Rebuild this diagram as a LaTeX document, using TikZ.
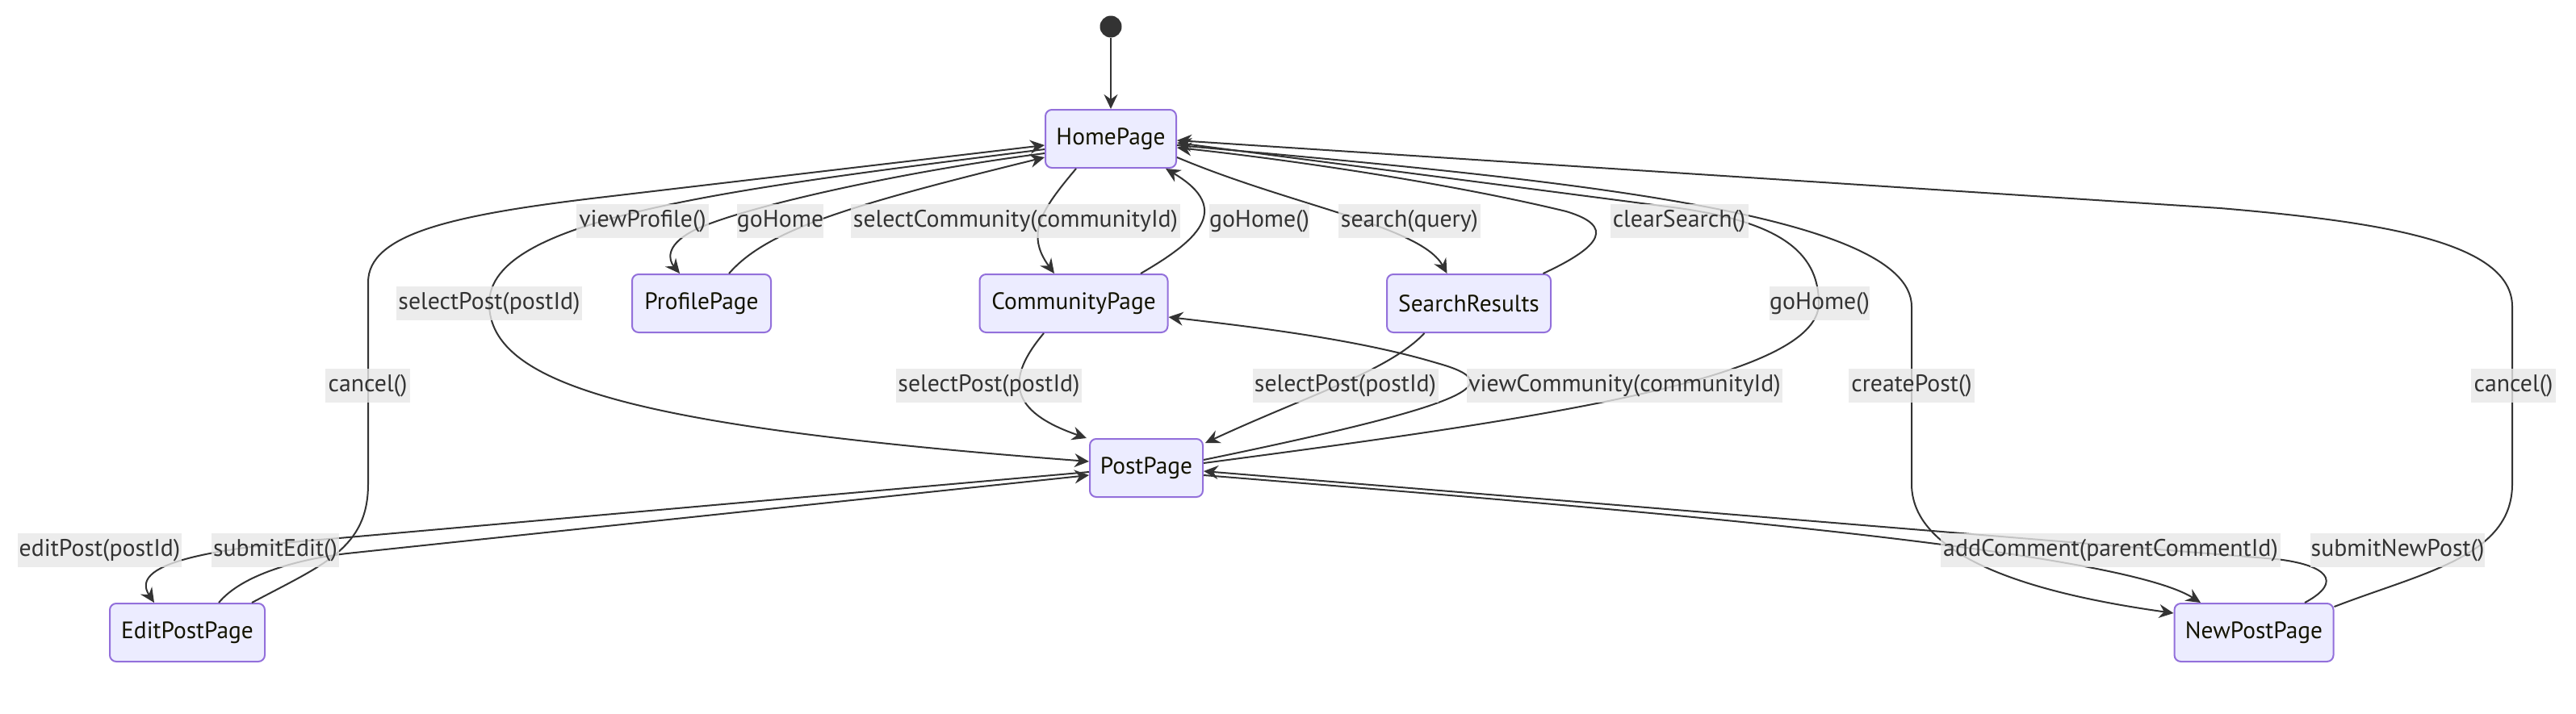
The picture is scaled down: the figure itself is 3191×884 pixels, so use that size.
\documentclass[tikz,border=0pt]{standalone}
\usepackage{fontspec}
\setmainfont{PT Sans}
\usetikzlibrary{arrows.meta,calc}
\definecolor{nodefill}{HTML}{ECECFF}
\definecolor{nodestroke}{HTML}{9370DB}
\definecolor{edgecol}{HTML}{333333}
\definecolor{lblbg}{HTML}{E8E8E8}
\definecolor{statetext}{HTML}{131300}
\begin{document}
\begin{tikzpicture}[x=0.5pt,y=-0.5pt,
  state/.style={draw=nodestroke, fill=nodefill, line width=1pt, rounded corners=4pt,
    minimum height=36pt, inner sep=0pt, font=\fontsize{14.7}{17}\selectfont, text=statetext},
  lbl/.style={fill=lblbg, fill opacity=0.8, text opacity=1, text=edgecol, inner sep=0pt,
    minimum height=21pt, font=\fontsize{14.9}{17}\selectfont},
  edge/.style={draw=edgecol, line width=1pt, -{Stealth[length=9pt,width=8.5pt,inset=3pt]}}]

\useasboundingbox[fill=white] (0,0) rectangle (3191,884);

% states
\node[circle, fill=edgecol, minimum size=13.5pt, inner sep=0pt] (start) at (1376,33) {};
\node[state, minimum width=81pt] (Home) at (1376,172) {HomePage};
\node[state, minimum width=86pt] (Profile) at (869,376) {ProfilePage};
\node[state, minimum width=116.5pt] (Community) at (1330,376) {CommunityPage};
\node[state, minimum width=101.5pt] (Search) at (1819.5,376) {SearchResults};
\node[state, minimum width=70pt] (Post) at (1420,580) {PostPage};
\node[state, minimum width=96pt] (Edit) at (232,784) {EditPostPage};
\node[state, minimum width=98.5pt] (NewPost) at (2792,784) {NewPostPage};

% transitions
\draw[edge] (start) -- (Home);
\draw[edge] ($(Home.west)+(0,18)$) .. controls (1100,215) and (900,262) .. (855,288)
  .. controls (825,305) and (828,322) .. ($(Profile.north)+(-27,0)$);
\draw[edge] ($(Profile.north)+(34,0)$) .. controls (950,285) and (1050,255) .. ($(Home.west)+(0,23)$);
\draw[edge] ($(Edit.north)+(80,0)$) .. controls (400,700) and (456,680) .. (456,600) -- (456,350)
  .. controls (456,290) and (560,266) .. (750,244) -- ($(Home.west)+(0,8)$);
\draw[edge] ($(Home.west)+(0,13)$) .. controls (900,235) and (606,270) .. (606,376)
  .. controls (606,480) and (800,530) .. ($(Post.west)+(0,-8)$);
\draw[edge] ($(Home.south)+(-43,0)$) .. controls (1290,260) and (1270,290) .. ($(Community.north)+(-24,0)$);
\draw[edge] ($(Community.north)+(83,0)$) .. controls (1480,300) and (1530,260) .. ($(Home.south)+(68,0)$);
\draw[edge] ($(Home.east)+(0,23)$) .. controls (1600,255) and (1760,280) .. ($(Search.north)+(-27,0)$);
\draw[edge] ($(Search.north)+(92,0)$) .. controls (1985,305) and (2000,280) .. (1940,262)
  .. controls (1800,228) and (1600,198) .. ($(Home.east)+(0,11)$);
\draw[edge] ($(Post.east)+(0,-6)$) .. controls (1900,520) and (2253,470) .. (2253,376)
  .. controls (2253,310) and (2200,275) .. (2080,258) -- ($(Home.east)+(0,5)$);
\draw[edge] ($(Post.east)+(0,-10)$) .. controls (1830,500) and (1870,475) .. (1780,450)
  .. controls (1680,420) and (1550,405) .. ($(Community.east)+(0,17)$);
\draw[edge] ($(Community.south)+(-37,0)$) .. controls (1245,470) and (1250,510) .. ($(Post.north west)+(-3,0)$);
\draw[edge] ($(Search.south)+(-55,0)$) .. controls (1720,460) and (1620,490) .. ($(Post.north east)+(2,6)$);
\draw[edge] ($(Home.east)+(0,8)$) .. controls (1900,220) and (2368,260) .. (2368,380) -- (2368,600)
  .. controls (2368,700) and (2550,740) .. ($(NewPost.west)+(0,-24)$);
\draw[edge] ($(NewPost.north east)+(0,5)$) .. controls (3000,710) and (3112,690) .. (3112,600) -- (3112,380)
  .. controls (3112,300) and (2950,275) .. (2750,258) -- ($(Home.east)+(0,2)$);
\draw[edge] ($(Post.west)+(0,5)$) -- (420,667) .. controls (250,680) and (160,700) .. ($(Edit.north)+(-41,0)$);
\draw[edge] ($(Edit.north)+(39,0)$) .. controls (300,712) and (370,693) .. (430,686) -- ($(Post.west)+(0,9)$);
\draw[edge] ($(Post.east)+(0,9)$) .. controls (2000,630) and (2620,680) .. ($(NewPost.north)+(-66,0)$);
\draw[edge] ($(NewPost.north)+(63,0)$) .. controls (2905,720) and (2880,700) .. (2820,693) -- ($(Post.east)+(0,4)$);

% labels
\node[lbl, minimum width=82pt] (lViewProfile) at (796,274) {viewProfile()};
\node[lbl, minimum width=51.5pt] (lGoHomeP) at (966.5,274) {goHome};
\node[lbl, minimum width=204pt] (lSelCommunity) at (1258,274) {selectCommunity(communityId)};
\node[lbl, minimum width=62pt] (lGoHomeC) at (1560,274) {goHome()};
\node[lbl, minimum width=88pt] (lSearch) at (1746,274) {search(query)};
\node[lbl, minimum width=85.5pt] (lClearSearch) at (2080,274) {clearSearch()};
\node[lbl, minimum width=115pt] (lSelPostH) at (606,376) {selectPost(postId)};
\node[lbl, minimum width=62pt] (lGoHomePost) at (2254,376) {goHome()};
\node[lbl, minimum width=52.5pt] (lCancelE) at (455.5,478) {cancel()};
\node[lbl, minimum width=115pt] (lSelPostC) at (1225,478) {selectPost(postId)};
\node[lbl, minimum width=115pt] (lSelPostS) at (1666.5,478) {selectPost(postId)};
\node[lbl, minimum width=195.5pt] (lViewCommunity) at (2012.5,478) {viewCommunity(communityId)};
\node[lbl, minimum width=78pt] (lCreatePost) at (2368,478) {createPost()};
\node[lbl, minimum width=52.5pt] (lCancelN) at (3113.5,478) {cancel()};
\node[lbl, minimum width=101.5pt] (lEditPost) at (123.5,682) {editPost(postId)};
\node[lbl, minimum width=79pt] (lSubmitEdit) at (341,682) {submitEdit()};
\node[lbl, minimum width=210.5pt] (lAddComment) at (2614.5,682) {addComment(parentCommentId)};
\node[lbl, minimum width=108pt] (lSubmitNewPost) at (2970,682) {submitNewPost()};
\end{tikzpicture}
\end{document}
